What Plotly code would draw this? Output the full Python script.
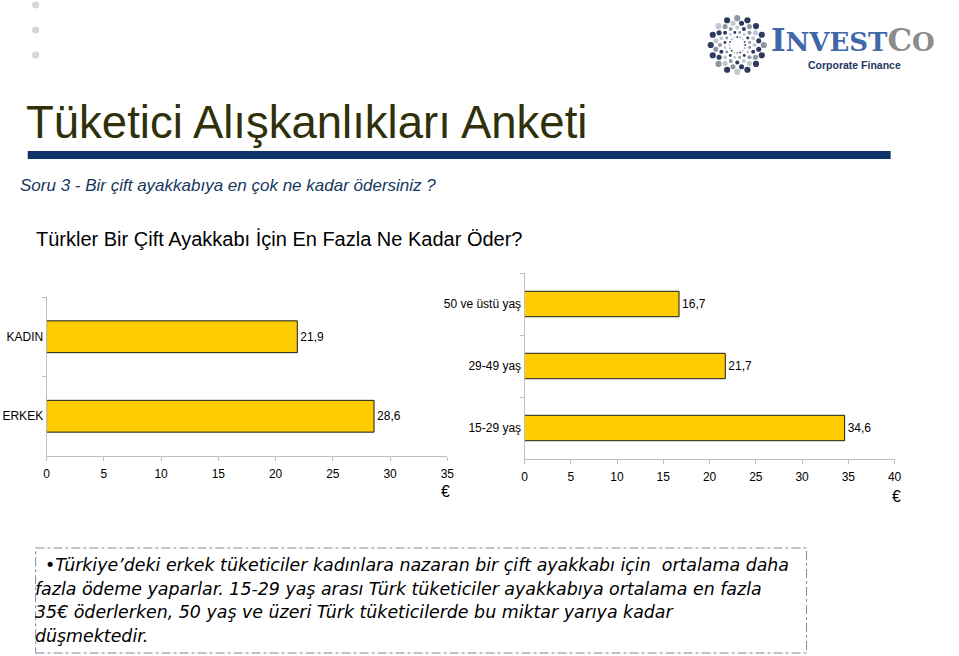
import numpy as np
import plotly.graph_objects as go

W, H = 959, 656

# ---- data ----
gender_categories = ["KADIN", "ERKEK"]
gender_values = [21.9, 28.6]
gender_ticks = [0, 5, 10, 15, 20, 25, 30, 35]

age_categories = ["50 ve üstü yaş", "29-49 yaş", "15-29 yaş"]
age_values = [16.7, 21.7, 34.6]
age_ticks = [0, 5, 10, 15, 20, 25, 30, 35, 40]

title_text = "Tüketici Alışkanlıkları Anketi"
question_text = "Soru 3 - Bir çift ayakkabıya en çok ne kadar ödersiniz ?"
chart_title = "Türkler Bir Çift Ayakkabı İçin En Fazla Ne Kadar Öder?"
note_lines = [
    "•Türkiye’deki erkek tüketiciler kadınlara nazaran bir çift ayakkabı için \u00a0ortalama daha",
    "fazla ödeme yaparlar. 15-29 yaş arası Türk tüketiciler ayakkabıya ortalama en fazla",
    "35€ öderlerken, 50 yaş ve üzeri Türk tüketicilerde bu miktar yarıya kadar",
    "düşmektedir.",
]


def fmt(v):
    return f"{v:.1f}".replace(".", ",")


def px(x):
    return x / W


def py(y):
    return 1 - y / H


FONT = "Liberation Sans, Arial, sans-serif"
BAR = "#FFCC00"
AX = "#bfbfbf"

fig = go.Figure()
fig.add_trace(go.Bar(
    x=gender_values, y=gender_categories, orientation="h",
    xaxis="x", yaxis="y", width=0.4,
    marker=dict(color=BAR, line=dict(color="#1a1a1a", width=1)),
    text=[fmt(v) for v in gender_values], textposition="outside",
    textfont=dict(size=12, color="black", family=FONT),
    cliponaxis=False, hoverinfo="skip",
))
fig.add_trace(go.Bar(
    x=age_values, y=age_categories, orientation="h",
    xaxis="x2", yaxis="y2", width=0.41,
    marker=dict(color=BAR, line=dict(color="#1a1a1a", width=1)),
    text=[fmt(v) for v in age_values], textposition="outside",
    textfont=dict(size=12, color="black", family=FONT),
    cliponaxis=False, hoverinfo="skip",
))

xcommon = dict(showgrid=False, zeroline=False, showline=True, linecolor=AX, linewidth=1,
               ticks="outside", ticklen=4, tickcolor=AX,
               tickfont=dict(size=12, color="black", family=FONT), ticklabelstandoff=3)
ycommon = dict(showgrid=False, zeroline=False, showline=True, linecolor=AX, linewidth=1,
               ticks="outside", ticklen=4, tickcolor=AX, tickson="boundaries",
               autorange="reversed", tickfont=dict(size=12, color="black", family=FONT))

layout = dict(
    width=W, height=H, margin=dict(l=0, r=0, t=0, b=0),
    paper_bgcolor="white", plot_bgcolor="rgba(0,0,0,0)", showlegend=False,
    xaxis=dict(domain=[px(44), px(449)], range=[0, 35], tickvals=gender_ticks, anchor="y", **xcommon),
    yaxis=dict(domain=[py(456), py(297)], anchor="x", **ycommon),
    xaxis2=dict(domain=[px(527), px(901)], range=[0, 40], tickvals=age_ticks, anchor="y2", **xcommon),
    yaxis2=dict(domain=[py(459), py(273)], anchor="x2", **ycommon),
)
fig.update_layout(**layout)

ann = []
ann.append(dict(text=title_text, x=px(21), y=py(122), xanchor="left", yanchor="middle",
                font=dict(size=45.5, color="#30300a", family=FONT)))
ann.append(dict(text="<i>" + question_text + "</i>", x=px(15), y=py(186), xanchor="left", yanchor="middle",
                font=dict(size=17, color="#17375e", family=FONT)))
ann.append(dict(text=chart_title, x=px(31), y=py(239), xanchor="left", yanchor="middle",
                font=dict(size=20, color="black", family=FONT)))
ann.append(dict(text="€", x=px(447), y=py(491), xanchor="center", yanchor="middle",
                font=dict(size=16, color="black", family=FONT)))
ann.append(dict(text="€", x=px(903), y=py(497), xanchor="center", yanchor="middle",
                font=dict(size=16, color="black", family=FONT)))
note_x = [40, 30, 30, 30]
note_y = [565, 589, 612, 636]
for line, nx, ny in zip(note_lines, note_x, note_y):
    ann.append(dict(text="<i>" + line + "</i>", x=px(nx), y=py(ny),
                    xanchor="left", yanchor="middle", align="left",
                    font=dict(size=17.4, color="black", family="DejaVu Sans")))
# logo texts
ann.append(dict(text="<b><span style='font-size:31px'>I</span>NVEST"
                     "<span style='font-size:31px;color:#8c8c8c'>C</span>"
                     "<span style='color:#8c8c8c'>O</span></b>",
                x=px(774), y=py(60), xanchor="left", yanchor="bottom",
                font=dict(size=26, color="#3e68a8", family="DejaVu Serif")))
ann.append(dict(text="<b>Corporate Finance</b>", x=px(860), y=py(65), xanchor="center", yanchor="middle",
                font=dict(size=10.5, color="#1e3560", family=FONT)))
for a in ann:
    a.update(xref="paper", yref="paper", showarrow=False)
fig.update_layout(annotations=ann)

shapes = []
# title underline bar
shapes.append(dict(type="rect", xref="paper", yref="paper", x0=px(25), x1=px(897), y0=py(159), y1=py(151),
                   fillcolor="#0f3468", line=dict(width=0), layer="below"))
# note box
shapes.append(dict(type="rect", xref="paper", yref="paper", x0=px(33), x1=px(812), y0=py(653), y1=py(548),
                   fillcolor="rgba(0,0,0,0)", line=dict(color="#7a8aa0", width=1, dash="dashdot")))


def dot(x, y, r, color):
    return dict(type="circle", xref="paper", yref="paper", xsizemode="pixel", ysizemode="pixel",
                xanchor=px(x), yanchor=py(y), x0=-r, x1=r, y0=-r, y1=r,
                fillcolor=color, line=dict(width=0))


for yy in (5, 30, 55):
    shapes.append(dot(33, yy, 3.6, "#d6d6d6"))

# logo starburst (decoration)
cx, cy = 742, 45
rays = 16
for i in range(5):
    rr = 8 + 4.7 * i
    size = 0.9 + 0.55 * i
    off = (i % 2) * np.pi / rays
    for j in range(rays):
        ang = 2 * np.pi * j / rays + off
        col = "#2b3a5e" if (i + j) % 3 == 0 else ("#8f96a3" if (i + j) % 3 == 1 else "#c3c7ce")
        if i == 4 and j % 2 == 1:
            col = "#2b3a5e"
        shapes.append(dot(cx + rr * np.cos(ang), cy + rr * np.sin(ang), size, col))

fig.update_layout(shapes=shapes)

fig.write_html("out.html")
